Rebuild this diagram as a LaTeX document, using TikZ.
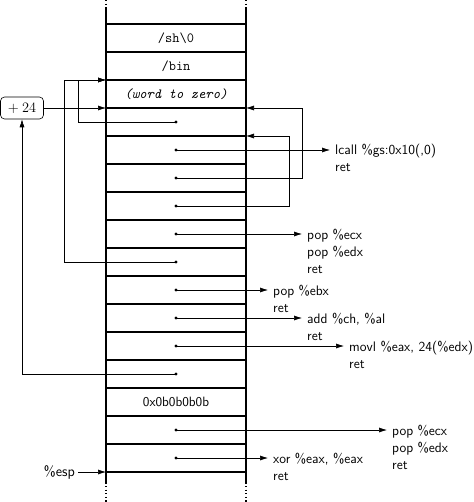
\documentclass[tikz,border=0pt]{standalone}
\usetikzlibrary{arrows.meta,calc}
\tikzset{
  stk/.style={line width=1.2bp},
  stkdot/.style={line width=1.2bp, dash pattern=on 1.2bp off 2.4bp},
  conn/.style={line width=0.6bp},
  arr/.style={conn, -{Latex[length=8bp,width=5bp]}},
  cell/.style={inner sep=0pt, font=\fontsize{14bp}{17bp}\selectfont},
  lab/.style={anchor=base west, inner xsep=5bp, inner ysep=0pt, font=\fontsize{13.8bp}{17bp}\selectfont\sffamily},
  dot/.style={fill=black},
  plusbox/.style={draw, line width=0.6bp, rounded corners=4bp, minimum width=43bp, minimum height=22bp, inner sep=0pt, font=\fontsize{14bp}{17bp}\selectfont}
}
\newcommand{\lines}[1]{\begin{tabular}[t]{@{}l@{}}#1\end{tabular}}
\begin{document}
\begin{tikzpicture}[x=1bp, y=-1bp]
\useasboundingbox (0,0) rectangle (474,502);
% stack frame
\draw[stk] (106,8) -- (106,484);
\draw[stk] (246,8) -- (246,484);
\draw[stkdot] (106,0) -- (106,8);
\draw[stkdot] (246,0) -- (246,8);
\draw[stkdot] (106,486) -- (106,502);
\draw[stkdot] (246,486) -- (246,502);
\foreach \k in {0,...,16} \draw[stk] (106,{24+28*\k}) -- (246,{24+28*\k});
% cell texts
\node[cell] (c1) at (176,38) {\ttfamily /sh\textbackslash 0};
\node[cell] (c2) at (176,66) {\ttfamily /bin};
\node[cell] (c3) at (176,94) {\ttfamily\itshape (word to zero)};
\node[cell, font=\fontsize{13.5bp}{17bp}\selectfont\sffamily] (c14) at (176,402) {0x0b0b0b0b};
% edge points
\coordinate (b3) at (106,80);
\coordinate (b4) at (106,108);
\coordinate (r4) at (246,108);
\coordinate (r5) at (246,136);
\coordinate (b17) at (106,472);
% dots
\foreach \n/\y in {4/122,5/150,6/178,7/206,8/234,9/262,10/290,11/318,12/346,13/374,15/430,16/458} {
  \coordinate (d\n) at (176,\y);
  \fill[dot] (d\n) circle (1.6bp);
}
% +24 box
\node[plusbox] (plus) at (22,108) {$+\:24$};
% labels
\node[lab] (L5) at (330,155) {\lines{lcall \%gs:0x10(,0)\\ret}};
\node[lab] (L8) at (302,239) {\lines{pop \%ecx\\pop \%edx\\ret}};
\node[lab] (L10) at (268,295) {\lines{pop \%ebx\\ret}};
\node[lab] (L11) at (302,323) {\lines{add \%ch, \%al\\ret}};
\node[lab] (L12) at (344,351) {\lines{movl \%eax, 24(\%edx)\\ret}};
\node[lab] (L15) at (387,435) {\lines{pop \%ecx\\pop \%edx\\ret}};
\node[lab] (L16) at (268,463) {\lines{xor \%eax, \%eax\\ret}};
\node[cell, anchor=east, inner xsep=3bp, font=\fontsize{14.5bp}{17bp}\selectfont\sffamily] (esp) at (78,472) {\%esp};
% connectors
\draw[arr] (d4) -- ++(-98,0) |- (b3);
\draw[arr] (d9) -- ++(-112,0) |- (b3);
\draw[arr] (plus) -- (b4);
\draw[arr] (d13) -| (plus);
\draw[arr] (d6) -- ++(126,0) |- (r4);
\draw[arr] (d7) -- ++(113,0) |- (r5);
\draw[arr] (d5) -- (d5 -| L5.west);
\draw[arr] (d8) -- (d8 -| L8.west);
\draw[arr] (d10) -- (d10 -| L10.west);
\draw[arr] (d11) -- (d11 -| L11.west);
\draw[arr] (d12) -- (d12 -| L12.west);
\draw[arr] (d15) -- (d15 -| L15.west);
\draw[arr] (d16) -- (d16 -| L16.west);
\draw[arr] (esp) -- (b17);
\end{tikzpicture}
\end{document}
